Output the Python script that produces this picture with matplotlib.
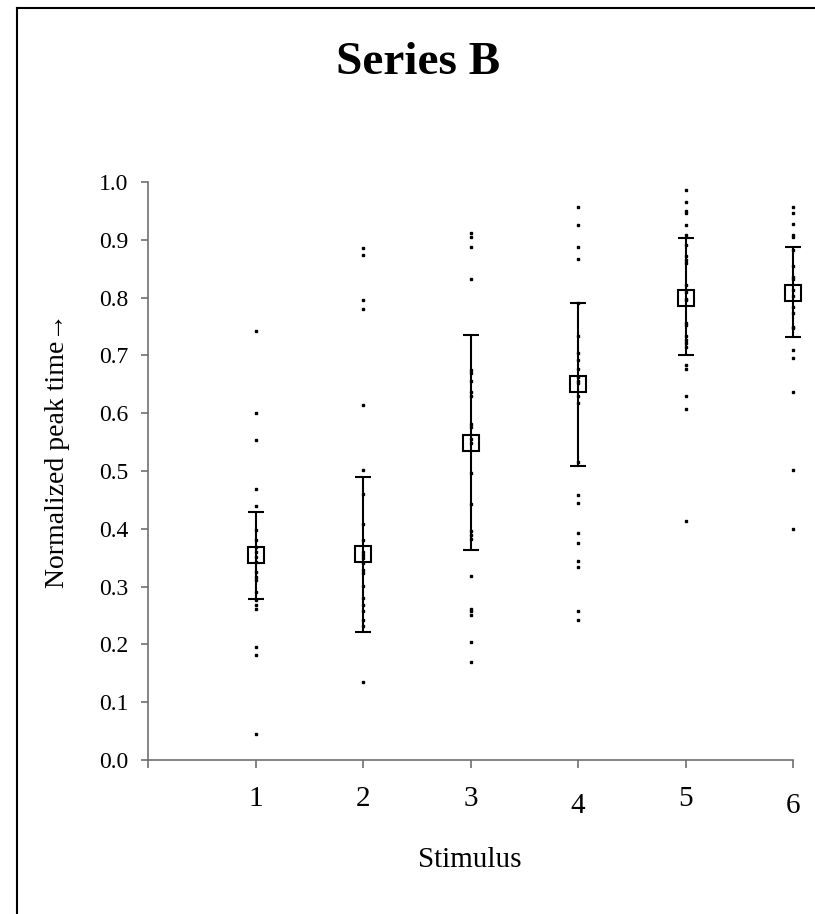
import matplotlib
matplotlib.use("Agg")
import matplotlib.pyplot as plt
from matplotlib.lines import Line2D
from matplotlib.transforms import ScaledTranslation

# -----------------------------
# Data
# -----------------------------
stimulus = [1, 2, 3, 4, 5, 6]

s1 = [0.742, 0.600, 0.553, 0.468, 0.440, 0.398, 0.381, 0.368, 0.360, 0.352, 0.343,
      0.325, 0.317, 0.311, 0.291, 0.277, 0.268, 0.262, 0.196, 0.182, 0.045]
s2 = [0.885, 0.873, 0.796, 0.780, 0.614, 0.501, 0.461, 0.408, 0.381, 0.360, 0.355,
      0.349, 0.340, 0.329, 0.323, 0.301, 0.280, 0.268, 0.258, 0.242, 0.231, 0.135]
s3 = [0.912, 0.905, 0.887, 0.833, 0.675, 0.670, 0.655, 0.637, 0.629, 0.582, 0.576,
      0.556, 0.548, 0.497, 0.443, 0.397, 0.390, 0.382, 0.318, 0.262, 0.257, 0.251,
      0.205, 0.170]
s4 = [0.956, 0.926, 0.888, 0.867, 0.791, 0.733, 0.704, 0.692, 0.676, 0.663, 0.655,
      0.652, 0.629, 0.617, 0.516, 0.458, 0.445, 0.393, 0.375, 0.345, 0.334, 0.258,
      0.242]
s5 = [0.987, 0.965, 0.950, 0.946, 0.926, 0.908, 0.891, 0.872, 0.865, 0.859, 0.822,
      0.810, 0.798, 0.796, 0.756, 0.753, 0.734, 0.727, 0.721, 0.715, 0.683, 0.676,
      0.630, 0.608, 0.414]
s6 = [0.957, 0.947, 0.928, 0.908, 0.904, 0.882, 0.855, 0.836, 0.833, 0.813, 0.802,
      0.784, 0.773, 0.750, 0.747, 0.709, 0.695, 0.637, 0.501, 0.399]
samples = [s1, s2, s3, s4, s5, s6]

centers = [0.355, 0.357, 0.548, 0.650, 0.800, 0.808]
bar_low = [0.279, 0.222, 0.363, 0.509, 0.700, 0.731]
bar_high = [0.429, 0.490, 0.735, 0.791, 0.903, 0.887]

x_ticks = [0, 1, 2, 3, 4, 5, 6]
x_ticklabels = ['', '1', '2', '3', '4', '5', '6']
y_ticks = [0.0, 0.1, 0.2, 0.3, 0.4, 0.5, 0.6, 0.7, 0.8, 0.9, 1.0]

# -----------------------------
# Figure
# -----------------------------
plt.rcParams['font.family'] = ['Liberation Serif', 'DejaVu Serif']

fig = plt.figure(figsize=(8.15, 9.14), dpi=100)
ax = fig.add_axes([148 / 815, 1 - 760 / 914, (793 - 148) / 815, (760 - 182) / 914])

# raw points
for xs, vals in zip(stimulus, samples):
    ax.plot([xs] * len(vals), vals, linestyle='none', marker='s', markersize=1.9,
            color='black', clip_on=False, zorder=3)

# error bars + centre boxes
yerr = [[c - lo for c, lo in zip(centers, bar_low)],
        [hi - c for c, hi in zip(centers, bar_high)]]
ax.errorbar(stimulus, centers, yerr=yerr, fmt='none', ecolor='black',
            elinewidth=1.5, capsize=5.5, capthick=1.5, clip_on=False, zorder=2)
ax.plot(stimulus, centers, linestyle='none', marker='s', markersize=11,
        markerfacecolor='none', markeredgecolor='black', markeredgewidth=1.5,
        clip_on=False, zorder=4)

ax.set_xlim(0, 6)
ax.set_ylim(0, 1)
ax.set_xticks(x_ticks)
ax.set_xticklabels(x_ticklabels)
ax.set_yticks(y_ticks)
ax.set_yticklabels([f"{v:.1f}" for v in y_ticks])

for side in ['top', 'right']:
    ax.spines[side].set_visible(False)
for side in ['left', 'bottom']:
    ax.spines[side].set_color('#707070')
    ax.spines[side].set_linewidth(1.2)

ax.tick_params(axis='x', direction='out', length=6, width=1.2, color='#707070',
               labelsize=21, pad=13)
ax.tick_params(axis='y', direction='out', length=5, width=1.2, color='#707070',
               labelsize=17, pad=9)

# the original chart has the 4 and 6 labels sitting a little lower
for lbl, txt in zip(ax.get_xticklabels(), x_ticklabels):
    if txt in ('4', '6'):
        lbl.set_transform(lbl.get_transform() + ScaledTranslation(0, -7 / 100, fig.dpi_scale_trans))

fig.text(418 / 815, 1 - 63 / 914, 'Series B', ha='center', va='center',
         fontsize=34, fontweight='bold')
fig.text(470 / 815, 1 - 860 / 914, 'Stimulus', ha='center', va='center', fontsize=21)
fig.text(58 / 815, 1 - 450 / 914, 'Normalized peak time\u2192', ha='center', va='center',
         rotation=90, fontsize=20)

# outer frame (left and top edges visible)
fig.add_artist(Line2D([17 / 815, 17 / 815], [0, 1 - 8 / 914], transform=fig.transFigure,
                      color='black', linewidth=1.5))
fig.add_artist(Line2D([17 / 815, 1], [1 - 8 / 914, 1 - 8 / 914], transform=fig.transFigure,
                      color='black', linewidth=1.5))

fig.savefig('out.png', dpi=100)
